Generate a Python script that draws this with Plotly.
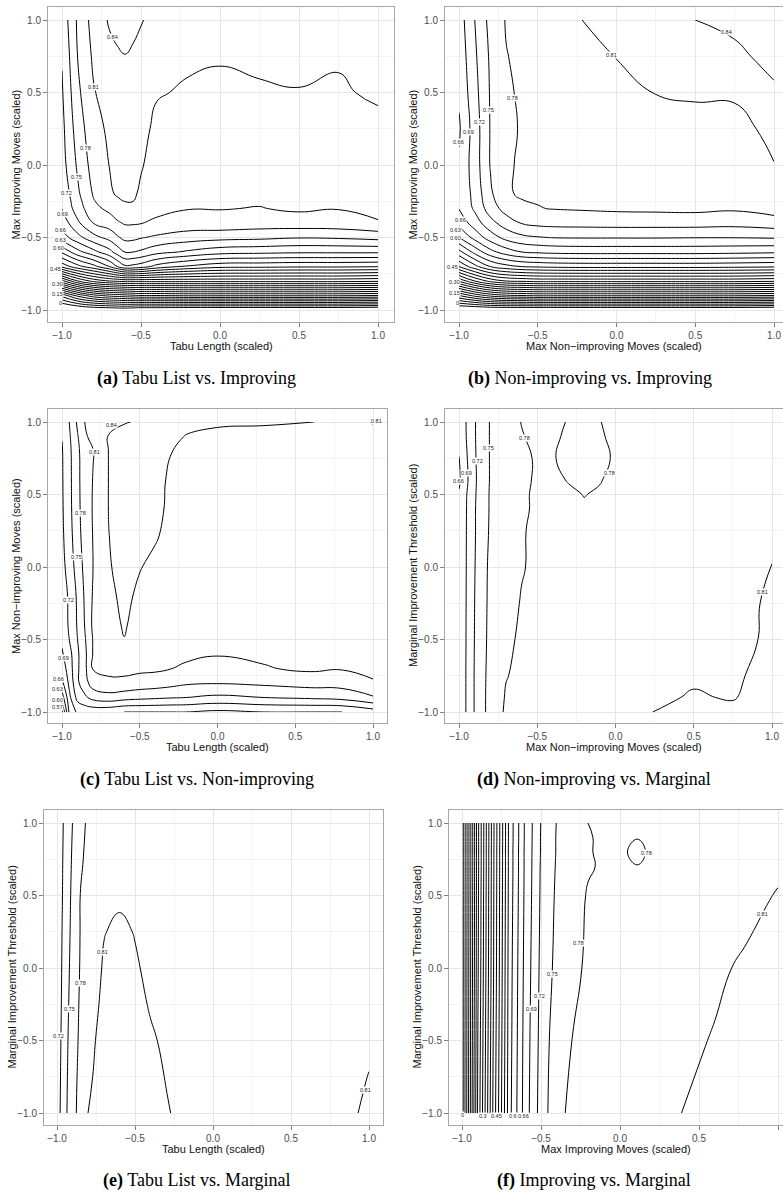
import plotly.graph_objects as go

W, H = 783, 1199
EPS = 1e-6

# ---------------- data (response surfaces) ----------------
# (a) Tabu Length (x) vs Max Improving Moves (y)
A_X = [-1, -0.9, -0.8, -0.7, -0.65, -0.6, -0.55, -0.5, -0.4, -0.2, 0, 0.25, 0.5, 0.75, 1]
A_Y = [-1, -0.9, -0.8, -0.7, -0.6, -0.5, -0.4, -0.3, -0.25, -0.2, 0, 0.25, 0.5, 0.75, 1]
A_Z = [
    [-0.06, -0.05, -0.04, -0.035, -0.032, -0.03, -0.035, -0.04, -0.04, -0.045, -0.045, -0.045, -0.045, -0.045, -0.05],
    [0.07, 0.13, 0.17, 0.19, 0.195, 0.20, 0.205, 0.21, 0.21, 0.215, 0.215, 0.215, 0.215, 0.215, 0.21],
    [0.29, 0.36, 0.40, 0.42, 0.425, 0.43, 0.43, 0.43, 0.43, 0.43, 0.43, 0.43, 0.43, 0.43, 0.425],
    [0.49, 0.53, 0.56, 0.60, 0.63, 0.655, 0.652, 0.645, 0.62, 0.595, 0.58, 0.578, 0.575, 0.575, 0.572],
    [0.575, 0.62, 0.65, 0.68, 0.703, 0.721, 0.72, 0.715, 0.70, 0.685, 0.672, 0.668, 0.665, 0.665, 0.665],
    [0.645, 0.68, 0.71, 0.73, 0.746, 0.758, 0.757, 0.752, 0.745, 0.735, 0.73, 0.727, 0.722, 0.724, 0.73],
    [0.672, 0.715, 0.751, 0.765, 0.776, 0.783, 0.783, 0.781, 0.776, 0.768, 0.77, 0.766, 0.767, 0.768, 0.777],
    [0.691, 0.735, 0.772, 0.787, 0.797, 0.803, 0.80, 0.795, 0.786, 0.781, 0.781, 0.779, 0.784, 0.781, 0.79],
    [0.694, 0.74, 0.778, 0.7975, 0.806, 0.8105, 0.8102, 0.80, 0.788, 0.784, 0.7845, 0.7825, 0.7865, 0.7845, 0.7925],
    [0.697, 0.745, 0.783, 0.806, 0.8125, 0.816, 0.8135, 0.806, 0.79, 0.787, 0.788, 0.786, 0.789, 0.788, 0.795],
    [0.708, 0.755, 0.793, 0.8105, 0.8165, 0.82, 0.817, 0.812, 0.80, 0.796, 0.796, 0.795, 0.795, 0.796, 0.798],
    [0.712, 0.765, 0.80, 0.815, 0.821, 0.826, 0.822, 0.818, 0.804, 0.801, 0.801, 0.801, 0.802, 0.801, 0.803],
    [0.717, 0.774, 0.808, 0.823, 0.828, 0.832, 0.828, 0.824, 0.812, 0.807, 0.806, 0.807, 0.809, 0.807, 0.814],
    [0.722, 0.781, 0.815, 0.832, 0.836, 0.839, 0.835, 0.83, 0.82, 0.814, 0.8115, 0.815, 0.816, 0.8125, 0.82],
    [0.73, 0.785, 0.822, 0.843, 0.85, 0.856, 0.849, 0.842, 0.83, 0.822, 0.82, 0.822, 0.822, 0.82, 0.825],
]

# (b) Max Non-improving Moves (x) vs Max Improving Moves (y)
B_X = [-1, -0.9, -0.8, -0.7, -0.6, -0.5, -0.4, -0.2, 0, 0.25, 0.5, 0.75, 1]
B_Y = [-1, -0.9, -0.8, -0.7, -0.6, -0.5, -0.4, -0.3, -0.2, 0, 0.25, 0.5, 0.75, 1]
B_Z = [
    [-0.05, -0.05, -0.045, -0.045, -0.045, -0.045, -0.045, -0.045, -0.045, -0.045, -0.045, -0.045, -0.05],
    [0.12, 0.16, 0.19, 0.205, 0.21, 0.215, 0.215, 0.215, 0.215, 0.215, 0.215, 0.215, 0.21],
    [0.305, 0.36, 0.40, 0.42, 0.425, 0.43, 0.43, 0.43, 0.43, 0.43, 0.43, 0.43, 0.425],
    [0.451, 0.50, 0.541, 0.56, 0.571, 0.575, 0.578, 0.58, 0.58, 0.58, 0.58, 0.578, 0.575],
    [0.53, 0.58, 0.62, 0.645, 0.66, 0.665, 0.668, 0.67, 0.67, 0.67, 0.67, 0.668, 0.665],
    [0.60, 0.64, 0.675, 0.70, 0.713, 0.718, 0.721, 0.722, 0.722, 0.722, 0.721, 0.721, 0.723],
    [0.64, 0.675, 0.71, 0.735, 0.752, 0.758, 0.76, 0.761, 0.762, 0.762, 0.762, 0.76, 0.766],
    [0.661, 0.695, 0.735, 0.762, 0.775, 0.779, 0.781, 0.783, 0.785, 0.786, 0.787, 0.784, 0.793],
    [0.663, 0.70, 0.745, 0.777, 0.783, 0.783, 0.785, 0.788, 0.79, 0.792, 0.792, 0.793, 0.805],
    [0.664, 0.705, 0.752, 0.777, 0.783, 0.785, 0.787, 0.79, 0.795, 0.797, 0.797, 0.798, 0.8095],
    [0.656, 0.705, 0.752, 0.775, 0.782, 0.785, 0.787, 0.792, 0.798, 0.803, 0.803, 0.804, 0.815],
    [0.665, 0.71, 0.753, 0.776, 0.784, 0.787, 0.79, 0.798, 0.804, 0.8105, 0.8125, 0.8125, 0.835],
    [0.67, 0.715, 0.755, 0.779, 0.786, 0.79, 0.795, 0.805, 0.8105, 0.818, 0.826, 0.833, 0.85],
    [0.675, 0.72, 0.76, 0.782, 0.79, 0.795, 0.80, 0.811, 0.82, 0.827, 0.84, 0.848, 0.862],
]

# (c) Tabu Length (x) vs Max Non-improving Moves (y)
C_X = [-1, -0.95, -0.9, -0.85, -0.8, -0.7, -0.6, -0.5, -0.4, -0.3, -0.2, 0, 0.3, 0.6, 0.8, 1]
C_Y = [-1, -0.9, -0.8, -0.7, -0.6, -0.5, -0.4, -0.2, 0, 0.2, 0.4, 0.6, 0.8, 0.9, 1]
C_Z = [
    [0.565, 0.672, 0.695, 0.70, 0.70, 0.6975, 0.69, 0.69, 0.69, 0.69, 0.69, 0.684, 0.69, 0.69, 0.69, 0.705],
    [0.615, 0.685, 0.73, 0.745, 0.76, 0.768, 0.762, 0.758, 0.755, 0.752, 0.75, 0.744, 0.75, 0.755, 0.76, 0.777],
    [0.652, 0.70, 0.745, 0.77, 0.795, 0.804, 0.803, 0.798, 0.795, 0.79, 0.784, 0.7817, 0.786, 0.792, 0.792, 0.807],
    [0.672, 0.708, 0.745, 0.775, 0.812, 0.817, 0.818, 0.816, 0.815, 0.8105, 0.806, 0.798, 0.808, 0.815, 0.812, 0.818],
    [0.686, 0.712, 0.745, 0.775, 0.812, 0.822, 0.828, 0.824, 0.822, 0.82, 0.815, 0.812, 0.815, 0.822, 0.818, 0.82],
    [0.696, 0.722, 0.75, 0.779, 0.812, 0.83, 0.8395, 0.83, 0.828, 0.824, 0.82, 0.815, 0.82, 0.825, 0.822, 0.822],
    [0.70, 0.726, 0.753, 0.783, 0.816, 0.832, 0.842, 0.832, 0.828, 0.825, 0.822, 0.82, 0.821, 0.825, 0.822, 0.82],
    [0.70, 0.728, 0.755, 0.786, 0.813, 0.835, 0.845, 0.836, 0.83, 0.827, 0.825, 0.823, 0.823, 0.824, 0.822, 0.82],
    [0.71, 0.735, 0.763, 0.79, 0.8102, 0.838, 0.848, 0.841, 0.835, 0.83, 0.828, 0.826, 0.825, 0.825, 0.823, 0.821],
    [0.714, 0.74, 0.769, 0.794, 0.811, 0.8395, 0.849, 0.846, 0.8415, 0.834, 0.83, 0.828, 0.827, 0.826, 0.824, 0.822],
    [0.716, 0.743, 0.772, 0.796, 0.812, 0.8405, 0.85, 0.848, 0.845, 0.836, 0.832, 0.829, 0.828, 0.827, 0.825, 0.823],
    [0.717, 0.744, 0.773, 0.797, 0.811, 0.8405, 0.85, 0.849, 0.846, 0.837, 0.833, 0.83, 0.829, 0.828, 0.826, 0.823],
    [0.718, 0.745, 0.774, 0.798, 0.809, 0.8405, 0.85, 0.85, 0.848, 0.8405, 0.836, 0.832, 0.831, 0.83, 0.828, 0.822],
    [0.721, 0.748, 0.778, 0.806, 0.82, 0.841, 0.851, 0.851, 0.849, 0.845, 0.839, 0.835, 0.834, 0.832, 0.83, 0.818],
    [0.725, 0.752, 0.785, 0.812, 0.825, 0.835, 0.838, 0.843, 0.848, 0.848, 0.846, 0.843, 0.842, 0.8405, 0.835, 0.808],
]

# (d) Max Non-improving Moves (x) vs Marginal Improvement Threshold (y)
D_X = [-1, -0.9, -0.8, -0.7, -0.6, -0.5, -0.4, -0.3, -0.2, -0.1, 0, 0.25, 0.5, 0.75, 1]
D_Y = [-1, -0.9, -0.75, -0.5, -0.25, 0, 0.25, 0.4, 0.5, 0.6, 0.75, 0.9, 1]
D_Z = [
    [0.665, 0.722, 0.762, 0.784, 0.788, 0.791, 0.794, 0.796, 0.798, 0.799, 0.80, 0.8105, 0.818, 0.818, 0.83],
    [0.665, 0.722, 0.762, 0.782, 0.787, 0.79, 0.793, 0.795, 0.797, 0.799, 0.80, 0.805, 0.8125, 0.808, 0.826],
    [0.665, 0.722, 0.761, 0.779, 0.785, 0.789, 0.792, 0.794, 0.796, 0.798, 0.799, 0.802, 0.806, 0.805, 0.821],
    [0.665, 0.721, 0.759, 0.776, 0.783, 0.787, 0.79, 0.792, 0.794, 0.796, 0.797, 0.799, 0.801, 0.800, 0.8156],
    [0.665, 0.72, 0.758, 0.774, 0.781, 0.785, 0.788, 0.79, 0.792, 0.794, 0.796, 0.798, 0.80, 0.802, 0.8135],
    [0.665, 0.719, 0.757, 0.773, 0.779, 0.783, 0.786, 0.789, 0.791, 0.793, 0.795, 0.798, 0.801, 0.804, 0.8102],
    [0.665, 0.718, 0.754, 0.772, 0.779, 0.7825, 0.786, 0.787, 0.787, 0.788, 0.79, 0.794, 0.797, 0.801, 0.808],
    [0.664, 0.718, 0.753, 0.772, 0.778, 0.782, 0.785, 0.785, 0.782, 0.784, 0.787, 0.791, 0.795, 0.80, 0.806],
    [0.663, 0.717, 0.753, 0.772, 0.778, 0.782, 0.785, 0.783, 0.7795, 0.782, 0.786, 0.79, 0.795, 0.80, 0.805],
    [0.655, 0.716, 0.752, 0.772, 0.7775, 0.7815, 0.784, 0.779, 0.777, 0.779, 0.785, 0.79, 0.795, 0.80, 0.805],
    [0.6595, 0.717, 0.752, 0.772, 0.777, 0.7815, 0.781, 0.776, 0.775, 0.777, 0.7815, 0.789, 0.795, 0.80, 0.805],
    [0.666, 0.718, 0.752, 0.772, 0.779, 0.784, 0.783, 0.777, 0.775, 0.778, 0.784, 0.79, 0.795, 0.80, 0.805],
    [0.667, 0.718, 0.752, 0.772, 0.7805, 0.785, 0.784, 0.779, 0.776, 0.7795, 0.785, 0.79, 0.795, 0.80, 0.805],
]

# (e) Tabu Length (x) vs Marginal Improvement Threshold (y)
E_X = [-1, -0.95, -0.9, -0.85, -0.8, -0.7, -0.6, -0.5, -0.4, -0.3, -0.2, 0, 0.5, 0.8, 0.9, 1]
E_Y = [-1, -0.75, -0.5, -0.25, 0, 0.25, 0.5, 0.75, 1]
E_Z = [
    [0.705, 0.7425, 0.77, 0.791, 0.8105, 0.822, 0.828, 0.826, 0.82, 0.812, 0.805, 0.798, 0.80, 0.805, 0.8085, 0.8135],
    [0.703, 0.741, 0.768, 0.789, 0.806, 0.82, 0.826, 0.824, 0.817, 0.809, 0.803, 0.797, 0.798, 0.802, 0.806, 0.8105],
    [0.701, 0.739, 0.766, 0.786, 0.803, 0.818, 0.824, 0.821, 0.813, 0.806, 0.801, 0.797, 0.797, 0.80, 0.803, 0.807],
    [0.70, 0.736, 0.764, 0.784, 0.799, 0.815, 0.821, 0.817, 0.808, 0.803, 0.80, 0.796, 0.796, 0.798, 0.80, 0.803],
    [0.70, 0.7333, 0.7615, 0.782, 0.794, 0.8125, 0.818, 0.8125, 0.805, 0.801, 0.799, 0.796, 0.795, 0.796, 0.798, 0.80],
    [0.70, 0.731, 0.759, 0.781, 0.791, 0.809, 0.8145, 0.809, 0.803, 0.80, 0.798, 0.796, 0.795, 0.795, 0.796, 0.797],
    [0.699, 0.729, 0.757, 0.7805, 0.789, 0.798, 0.806, 0.803, 0.80, 0.798, 0.797, 0.795, 0.794, 0.794, 0.795, 0.795],
    [0.70, 0.727, 0.754, 0.776, 0.787, 0.796, 0.802, 0.80, 0.798, 0.797, 0.796, 0.795, 0.794, 0.794, 0.794, 0.794],
    [0.70, 0.725, 0.7505, 0.771, 0.785, 0.793, 0.797, 0.797, 0.796, 0.795, 0.795, 0.795, 0.794, 0.794, 0.794, 0.794],
]

# (f) Max Improving Moves (x) vs Marginal Improvement Threshold (y)
F_X = [-1, -0.9, -0.8, -0.7, -0.6, -0.5, -0.4, -0.3, -0.2, -0.1, 0, 0.11, 0.2, 0.4, 0.6, 0.8, 1]
F_Y = [-1, -0.5, 0, 0.5, 0.7, 0.8, 0.9, 1]
F_Z = [
    [-0.02, 0.245, 0.43, 0.59, 0.675, 0.733, 0.772, 0.787, 0.79, 0.794, 0.797, 0.799, 0.801, 0.8105, 0.82, 0.826, 0.83],
    [-0.02, 0.24, 0.425, 0.587, 0.673, 0.73, 0.768, 0.7805, 0.786, 0.79, 0.793, 0.795, 0.797, 0.805, 0.8115, 0.818, 0.823],
    [-0.02, 0.235, 0.42, 0.585, 0.67, 0.727, 0.759, 0.775, 0.7835, 0.788, 0.79, 0.792, 0.794, 0.799, 0.806, 0.8135, 0.818],
    [-0.02, 0.232, 0.418, 0.582, 0.667, 0.724, 0.755, 0.773, 0.7815, 0.785, 0.787, 0.788, 0.789, 0.793, 0.797, 0.803, 0.8115],
    [-0.02, 0.23, 0.417, 0.581, 0.666, 0.723, 0.753, 0.771, 0.7785, 0.782, 0.783, 0.7805, 0.783, 0.789, 0.794, 0.799, 0.806],
    [-0.02, 0.23, 0.417, 0.581, 0.666, 0.722, 0.752, 0.771, 0.779, 0.7825, 0.783, 0.776, 0.783, 0.788, 0.793, 0.798, 0.804],
    [-0.02, 0.23, 0.416, 0.58, 0.665, 0.722, 0.752, 0.771, 0.779, 0.7825, 0.783, 0.7805, 0.784, 0.788, 0.792, 0.797, 0.802],
    [-0.02, 0.23, 0.416, 0.58, 0.665, 0.721, 0.751, 0.772, 0.7802, 0.783, 0.784, 0.785, 0.786, 0.789, 0.792, 0.796, 0.80],
]

# contour levels drawn in every panel
LEVEL_START, LEVEL_END, LEVEL_STEP = 0.0, 0.87, 0.03

# level of each contour label shown in each panel
A_LABEL_LEVELS = [0.84, 0.81, 0.78, 0.75, 0.72, 0.69, 0.66, 0.63, 0.60, 0.45, 0.30, 0.15, 0.0]
B_LABEL_LEVELS = [0.84, 0.81, 0.78, 0.75, 0.72, 0.69, 0.66, 0.66, 0.63, 0.60, 0.45, 0.30, 0.15, 0.0]
C_LABEL_LEVELS = [0.84, 0.81, 0.78, 0.75, 0.72, 0.69, 0.66, 0.63, 0.60, 0.57, 0.81]
D_LABEL_LEVELS = [0.66, 0.69, 0.72, 0.75, 0.78, 0.78, 0.81]
E_LABEL_LEVELS = [0.72, 0.75, 0.78, 0.81, 0.81]
F_LABEL_LEVELS = [0.0, 0.3, 0.45, 0.6, 0.66, 0.69, 0.72, 0.75, 0.78, 0.78, 0.81]

TICKS = [-1, -0.5, 0, 0.5, 1]
MINOR = [-0.75, -0.25, 0.25, 0.75]

X_TITLES = ["Tabu Length (scaled)", "Max Non\u2212improving Moves (scaled)",
            "Tabu Length (scaled)", "Max Non\u2212improving Moves (scaled)",
            "Tabu Length (scaled)", "Max Improving Moves (scaled)"]
Y_TITLES = ["Max Improving Moves (scaled)", "Max Improving Moves (scaled)",
            "Max Non\u2212improving Moves (scaled)", "Marginal Improvement Threshold (scaled)",
            "Marginal Improvement Threshold (scaled)", "Marginal Improvement Threshold (scaled)"]
CAP_TAGS = ["(a)", "(b)", "(c)", "(d)", "(e)", "(f)"]
CAP_TEXTS = ["Tabu List vs. Improving", "Non-improving vs. Improving",
             "Tabu List vs. Non-improving", "Non-improving vs. Marginal",
             "Tabu List vs. Marginal", "Improving vs. Marginal"]

SURFACES = [(A_X, A_Y, A_Z), (B_X, B_Y, B_Z), (C_X, C_Y, C_Z),
            (D_X, D_Y, D_Z), (E_X, E_Y, E_Z), (F_X, F_Y, F_Z)]
LABEL_LEVELS = [A_LABEL_LEVELS, B_LABEL_LEVELS, C_LABEL_LEVELS,
                D_LABEL_LEVELS, E_LABEL_LEVELS, F_LABEL_LEVELS]
LABEL_DIGITS = [2, 2, 2, 2, 2, 0]   # 0 -> shortest form ("0.3")

# ---------------- layout (pixels / placement) ----------------
BOXES = [
    dict(box=(48, 394, 7, 322), xt=(62, 378), yt=(20, 310), cap=(197, 378)),
    dict(box=(445, 783, 7, 322), xt=(459, 774), yt=(20, 310), cap=(590, 378)),
    dict(box=(48, 387, 409, 723), xt=(62, 373), yt=(422, 712), cap=(197, 779)),
    dict(box=(445, 783, 409, 723), xt=(459, 772), yt=(422, 712), cap=(594, 779)),
    dict(box=(44, 383, 810, 1125), xt=(57, 369), yt=(823, 1113), cap=(197, 1180)),
    dict(box=(449, 783, 810, 1125), xt=(462, 778), yt=(823, 1113), cap=(594, 1180)),
]
# where each contour label sits (data coordinates of its panel), same order as the levels above
LABEL_SPOTS = [
    [(-0.68, 0.88), (-0.80, 0.54), (-0.85, 0.12), (-0.91, -0.08), (-0.97, -0.19), (-1.0, -0.34),
     (-1.01, -0.45), (-1.01, -0.52), (-1.02, -0.575), (-1.04, -0.72), (-1.03, -0.82), (-1.03, -0.89),
     (-1.01, -0.95)],
    [(0.70, 0.92), (-0.03, 0.76), (-0.66, 0.46), (-0.81, 0.38), (-0.87, 0.30), (-0.94, 0.23),
     (-1.0, 0.16), (-0.99, -0.38), (-1.02, -0.445), (-1.02, -0.505), (-1.04, -0.70), (-1.03, -0.81),
     (-1.03, -0.88), (-1.01, -0.95)],
    [(-0.68, 0.98), (-0.79, 0.79), (-0.88, 0.37), (-0.91, 0.07), (-0.96, -0.23), (-0.99, -0.63),
     (-1.02, -0.77), (-1.03, -0.84), (-1.03, -0.915), (-1.03, -0.965), (1.02, 1.01)],
    [(-1.0, 0.59), (-0.95, 0.65), (-0.88, 0.73), (-0.81, 0.82), (-0.58, 0.89), (-0.04, 0.65),
     (0.94, -0.17)],
    [(-0.99, -0.47), (-0.92, -0.28), (-0.85, -0.10), (-0.71, 0.11), (0.98, -0.84)],
    [(-1.0, -1.015), (-0.87, -1.02), (-0.78, -1.02), (-0.68, -1.02), (-0.61, -1.02), (-0.56, -0.28),
     (-0.51, -0.19), (-0.43, -0.04), (-0.26, 0.17), (0.17, 0.79), (0.90, 0.37)],
]

SANS = "Liberation Sans, Arial, Helvetica, sans-serif"
SERIF = "Liberation Serif, Times New Roman, serif"


def fmt_level(v, digits):
    if abs(v) < 1e-9:
        return "0"
    if digits:
        return f"{v:.{digits}f}"
    return f"{v:.2f}".rstrip("0").rstrip(".")


fig = go.Figure()
layout = dict(width=W, height=H, margin=dict(l=0, r=0, t=0, b=0, pad=0),
              paper_bgcolor="white", plot_bgcolor="white", showlegend=False)
annotations = []

for i, ((X, Y, Z), geo) in enumerate(zip(SURFACES, BOXES)):
    n = "" if i == 0 else str(i + 1)
    xa, ya = "x" + n, "y" + n
    L, R, T, B = geo["box"]
    xm1, xp1 = geo["xt"]
    yp1, ym1 = geo["yt"]
    sx = (xp1 - xm1) / 2.0
    sy = (ym1 - yp1) / 2.0
    xr = [-1 + (L - xm1) / sx, -1 + (R - xm1) / sx]
    yr = [-1 - (B - ym1) / sy, 1 + (yp1 - T) / sy]
    right_clipped = R >= W

    fig.add_trace(go.Contour(
        x=X, y=Y, z=Z, xaxis=xa, yaxis=ya, showscale=False, autocontour=False,
        hoverinfo="skip", line=dict(color="black", width=1, smoothing=1.3),
        contours=dict(start=LEVEL_START + EPS, end=LEVEL_END, size=LEVEL_STEP,
                      coloring="none", showlabels=False)))

    axis_common = dict(tickvals=TICKS, tickformat=".1f", ticks="outside", ticklen=4,
                       tickwidth=1, tickcolor="#808080",
                       tickfont=dict(family=SANS, size=10, color="#4d4d4d"),
                       showgrid=True, gridcolor="#e6e6e6", gridwidth=1,
                       minor=dict(tickmode="array", tickvals=MINOR, showgrid=True,
                                  gridcolor="#f4f4f4", gridwidth=0.6, ticks=""),
                       showline=True, linecolor="#a8a8a8", linewidth=1,
                       zeroline=False, fixedrange=True)
    layout["xaxis" + n] = dict(axis_common, domain=[L / W, min(R / W, 1.0)], range=xr,
                               anchor=ya, mirror=True)
    layout["yaxis" + n] = dict(axis_common, domain=[1 - B / H, 1 - T / H], range=yr,
                               anchor=xa, mirror=(not right_clipped))

    # contour labels
    for lev, (lx, ly) in zip(LABEL_LEVELS[i], LABEL_SPOTS[i]):
        annotations.append(dict(xref=xa, yref=ya, x=lx, y=ly, text=fmt_level(lev, LABEL_DIGITS[i]),
                                showarrow=False, xanchor="center", yanchor="middle",
                                font=dict(family=SANS, size=5.5, color="#222222"),
                                bgcolor="white", borderpad=0))

    cx = (L + min(R, W + 7)) / 2.0
    annotations.append(dict(xref="paper", yref="paper", x=cx / W, y=1 - (B + 24) / H,
                            text=X_TITLES[i], showarrow=False, xanchor="center", yanchor="middle",
                            font=dict(family=SANS, size=11, color="#111111")))
    annotations.append(dict(xref="paper", yref="paper", x=(L - 32) / W, y=1 - ((T + B) / 2.0) / H,
                            text=Y_TITLES[i], showarrow=False, textangle=-90,
                            xanchor="center", yanchor="middle",
                            font=dict(family=SANS, size=11, color="#111111")))
    capx, capy = geo["cap"]
    annotations.append(dict(xref="paper", yref="paper", x=capx / W, y=1 - capy / H,
                            text="<b>" + CAP_TAGS[i] + "</b> " + CAP_TEXTS[i], showarrow=False,
                            xanchor="center", yanchor="middle",
                            font=dict(family=SERIF, size=18, color="black")))

layout["annotations"] = annotations
fig.update_layout(**layout)

# the page body must not add its default 8px margin around the figure
PAGE_CSS_JS = ("document.documentElement.style.margin='0';document.body.style.margin='0';"
               "document.body.style.padding='0';document.body.style.overflow='hidden';"
               "document.documentElement.style.overflow='hidden';")
fig.write_html("out.html", config={"displayModeBar": False}, post_script=PAGE_CSS_JS)
